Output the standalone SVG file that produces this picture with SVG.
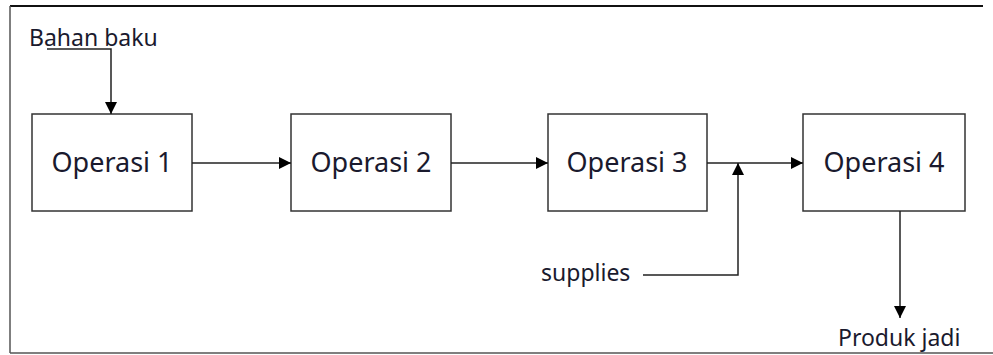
<svg xmlns="http://www.w3.org/2000/svg" width="993" height="355" viewBox="0 0 993 355">
  <defs>
    <marker id="arrow" viewBox="0 0 12 12" refX="12" refY="6" markerWidth="12" markerHeight="12" markerUnits="userSpaceOnUse" orient="auto">
      <path d="M0,0 L12,6 L0,12 z" fill="#000"/>
    </marker>
    <style>
      .box { fill: #fff; stroke: #333; stroke-width: 1.5; }
      .lbl { font-family: "Noto Sans", "Open Sans", sans-serif; font-size: 27px; fill: #1a1a2e; text-anchor: middle; }
      .note { font-family: "Noto Sans", "Open Sans", sans-serif; font-size: 23px; fill: #1a1a2e; }
      .conn { fill: none; stroke: #222; stroke-width: 1.5; }
      .frame { fill: none; stroke: #555; stroke-width: 1.5; }
    </style>
  </defs>

  <rect width="993" height="355" fill="#fff"/>

  <!-- outer frame -->
  <g id="frame">
    <line x1="10" y1="6" x2="983" y2="6" stroke="#111" stroke-width="2"/>
    <line class="frame" x1="10" y1="6" x2="10" y2="353"/>
    <line class="frame" x1="10" y1="353" x2="993" y2="353"/>
  </g>

  <g id="op1">
    <rect class="box" x="32" y="114" width="160" height="97"/>
    <text class="lbl" x="112" y="172">Operasi 1</text>
  </g>
  <g id="op2">
    <rect class="box" x="291" y="114" width="160" height="97"/>
    <text class="lbl" x="371" y="172">Operasi 2</text>
  </g>
  <g id="op3">
    <rect class="box" x="548" y="114" width="159" height="97"/>
    <text class="lbl" x="627" y="172">Operasi 3</text>
  </g>
  <g id="op4">
    <rect class="box" x="803" y="114" width="162" height="97"/>
    <text class="lbl" x="884" y="172">Operasi 4</text>
  </g>

  <g id="labels">
    <text class="note" x="29" y="46">Bahan baku</text>
    <text class="note" x="541" y="281">supplies</text>
    <text class="note" x="838" y="346">Produk jadi</text>
  </g>

  <g id="connectors">
    <polyline class="conn" points="47,49 111,49 111,114" marker-end="url(#arrow)"/>
    <line class="conn" x1="192" y1="163" x2="291" y2="163" marker-end="url(#arrow)"/>
    <line class="conn" x1="451" y1="163" x2="548" y2="163" marker-end="url(#arrow)"/>
    <line class="conn" x1="707" y1="163" x2="803" y2="163" marker-end="url(#arrow)"/>
    <polyline class="conn" points="643,275 738,275 738,163" marker-end="url(#arrow)"/>
    <line class="conn" x1="900" y1="211" x2="900" y2="318" marker-end="url(#arrow)"/>
  </g>
</svg>
